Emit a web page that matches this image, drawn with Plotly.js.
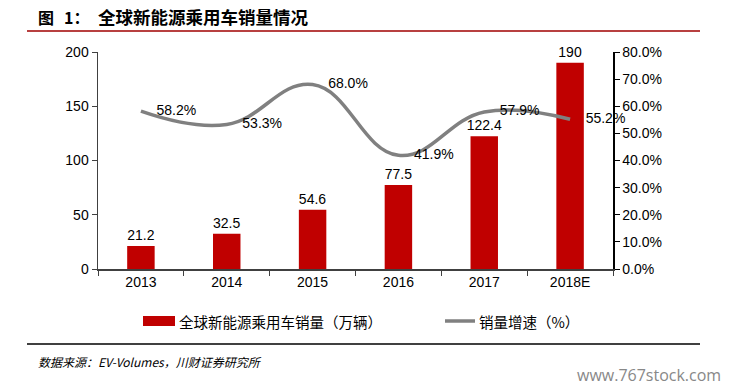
<!DOCTYPE html>
<html><head><meta charset="utf-8">
<script src="https://cdn.plot.ly/plotly-3.0.1.min.js"></script>
<style>html,body{margin:0;padding:0;background:#fff}#chart{width:736px;height:388px}</style>
</head><body><div id="chart"></div>
<script>
const categories = ["2013","2014","2015","2016","2017","2018E"];
const sales = [21.2, 32.5, 54.6, 77.5, 122.4, 190];
const growth = [58.2, 53.3, 68.0, 41.9, 57.9, 55.2];
const leftTicks = [0, 50, 100, 150, 200];
const rightTicks = [0, 10, 20, 30, 40, 50, 60, 70, 80];
const barName = "全球新能源乘用车销量（万辆）";
const lineName = "销量增速（%）";

const numFont = "Liberation Sans, Arial, sans-serif";
const cjk = "Noto Sans CJK SC, sans-serif";
const pad = "\u00a0\u00a0\u00a0\u00a0";

const traces = [
  {
    type: "bar", x: categories, y: sales, name: barName, showlegend: false,
    marker: {color: "#C00000"}, width: 0.32,
    text: sales.map(v => v % 1 === 0 ? String(v) : v.toFixed(1)), textposition: "outside",
    constraintext: "none",
    textfont: {family: numFont, size: 14, color: "#000"}, cliponaxis: false
  },
  {
    type: "scatter", mode: "lines+text", x: categories, y: growth, yaxis: "y2",
    name: lineName, showlegend: false,
    line: {color: "#808080", width: 3.5, shape: "spline", smoothing: 1.2},
    text: growth.map(v => pad + v.toFixed(1) + "%"), textposition: "middle right",
    textfont: {family: numFont, size: 14, color: "#000"}, cliponaxis: false
  }
];

// paper coordinate helpers (plot area: x 98..613, y 52..269 px)
const px = x => (x - 98) / 515;
const py = y => (269 - y) / 217;

const layout = {
  width: 736, height: 388,
  margin: {l: 98, r: 123, t: 52, b: 119},
  paper_bgcolor: "#fff", plot_bgcolor: "#fff",
  showlegend: false,
  xaxis: {
    type: "category", showline: true, linecolor: "#404040", linewidth: 1.5,
    ticks: "outside", tickson: "boundaries", ticklen: 5, tickcolor: "#404040",
    tickfont: {family: numFont, size: 14, color: "#000"}, showgrid: false, zeroline: false
  },
  yaxis: {
    range: [0, 200], tickvals: leftTicks, showline: true, linecolor: "#404040", linewidth: 1.5,
    ticks: "outside", ticklen: 5, tickcolor: "#404040", showgrid: false, zeroline: false,
    tickfont: {family: numFont, size: 14, color: "#000"}
  },
  yaxis2: {
    overlaying: "y", side: "right", range: [0, 80], tickvals: rightTicks,
    ticktext: rightTicks.map(v => v.toFixed(1) + "%"),
    showline: true, linecolor: "#000", linewidth: 1.5, ticks: "outside", ticklen: 5, tickcolor: "#000",
    showgrid: false, zeroline: false, tickfont: {family: numFont, size: 14, color: "#000"}
  },
  shapes: [
    {type: "line", xref: "paper", yref: "paper", x0: px(27), x1: px(700), y0: py(31), y1: py(31),
     line: {color: "#A00000", width: 1.5}},
    {type: "line", xref: "paper", yref: "paper", x0: px(27), x1: px(700), y0: py(344), y1: py(344),
     line: {color: "#000", width: 1.5}},
    // legend keys
    {type: "rect", xref: "paper", yref: "paper", x0: px(143), x1: px(175), y0: py(326), y1: py(316),
     fillcolor: "#C00000", line: {width: 0}},
    {type: "line", xref: "paper", yref: "paper", x0: px(445), x1: px(475), y0: py(321), y1: py(321),
     line: {color: "#808080", width: 3.5}}
  ],
  annotations: [
    {xref: "paper", yref: "paper", x: px(36), y: py(17), xanchor: "left", yanchor: "middle",
     text: "<b>图</b>", showarrow: false, font: {family: cjk, size: 16, color: "#000"}},
    {xref: "paper", yref: "paper", x: px(62), y: py(17), xanchor: "left", yanchor: "middle",
     text: "<b>1：</b>", showarrow: false, font: {family: cjk, size: 16, color: "#000"}},
    {xref: "paper", yref: "paper", x: px(96), y: py(17), xanchor: "left", yanchor: "middle",
     text: "<b>全球新能源乘用车销量情况</b>", showarrow: false, font: {family: cjk, size: 17.5, color: "#000"}},
    {xref: "paper", yref: "paper", x: px(177), y: py(321), xanchor: "left", yanchor: "middle",
     text: barName, showarrow: false, font: {family: cjk, size: 14.5, color: "#000"}},
    {xref: "paper", yref: "paper", x: px(477), y: py(321), xanchor: "left", yanchor: "middle",
     text: lineName, showarrow: false, font: {family: cjk, size: 14.5, color: "#000"}},
    {xref: "paper", yref: "paper", x: px(36), y: py(361), xanchor: "left", yanchor: "middle",
     text: "<i>数据来源：EV-Volumes，川财证券研究所</i>", showarrow: false,
     font: {family: cjk, size: 12, color: "#000"}},
    {xref: "paper", yref: "paper", x: px(723), y: py(375), xanchor: "right", yanchor: "middle",
     text: "www.767stock.com", showarrow: false,
     font: {family: "Open Sans, sans-serif", size: 16, color: "#888"}}
  ]
};

Plotly.newPlot("chart", traces, layout, {displayModeBar: false, staticPlot: true});
</script></body></html>
